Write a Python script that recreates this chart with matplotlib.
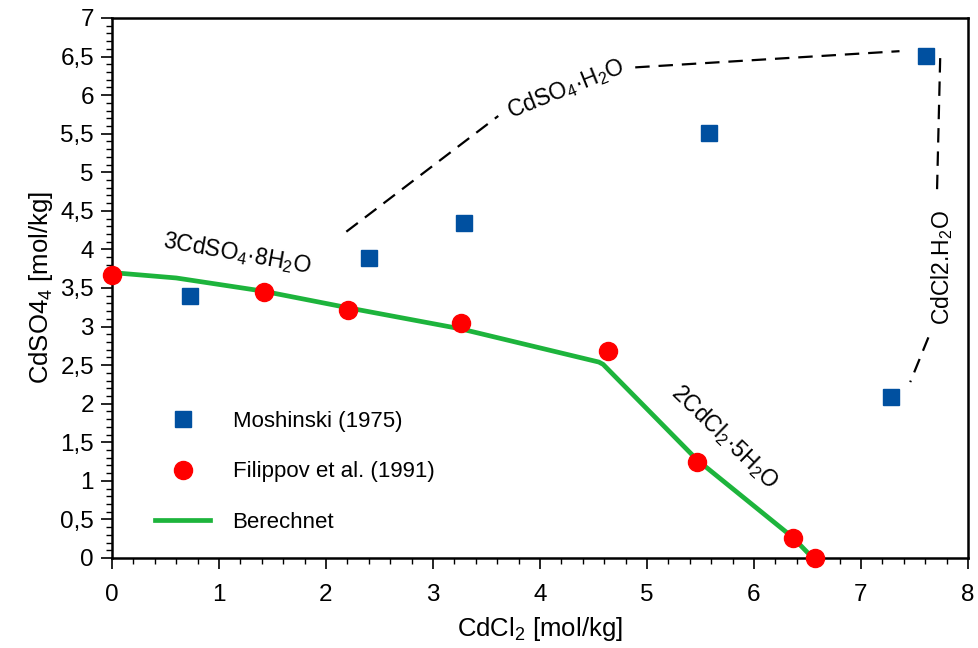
import numpy as np
import matplotlib
matplotlib.use("Agg")
import matplotlib.pyplot as plt
from matplotlib.ticker import MultipleLocator, FuncFormatter

# ================== DATA ==================
# Moshinski (1975)
mosh_x = [0.73, 2.40, 3.29, 5.58, 7.28, 7.61]
mosh_y = [3.40, 3.89, 4.34, 5.51, 2.09, 6.51]

# Filippov et al. (1991)
fil_x = [0.0, 1.42, 2.21, 3.26, 4.64, 5.47, 6.36, 6.57]
fil_y = [3.67, 3.45, 3.21, 3.05, 2.68, 1.24, 0.26, 0.0]

# Berechnet (calculated curve)
calc_x = [0.0, 0.6, 1.41, 2.22, 3.26, 4.55, 4.59, 5.47, 6.36, 6.55]
calc_y = [3.70, 3.63, 3.46, 3.24, 2.97, 2.54, 2.51, 1.27, 0.27, 0.0]

# dashed phase boundaries (pieces between the labels)
bound_segments = [
    ([2.19, 3.61], [4.23, 5.73]),
    ([4.89, 7.36], [6.36, 6.57]),
    ([7.74, 7.71], [6.48, 4.73]),
    ([7.63, 7.46], [2.86, 2.28]),
]

# phase labels: text, x, y, rotation
phase_labels = [
    (r"3CdSO$_4$·8H$_2$O", 1.17, 3.95, -10),
    (r"CdSO$_4$·H$_2$O", 4.24, 6.09, 22),
    (r"2CdCl$_2$·5H$_2$O", 5.73, 1.57, -44),
    (r"CdCl2.H$_2$O", 7.76, 3.76, 90),
]
# ==========================================

plt.rcParams["font.family"] = ["Liberation Sans", "DejaVu Sans"]
plt.rcParams["mathtext.fontset"] = "custom"
plt.rcParams["mathtext.rm"] = "Liberation Sans"
plt.rcParams["mathtext.it"] = "Liberation Sans:italic"
plt.rcParams["mathtext.default"] = "rm"

fig = plt.figure(figsize=(9.79, 6.48), dpi=100)
ax = fig.add_axes([112 / 979, 90 / 648, 856 / 979, 540 / 648])

for sx, sy in bound_segments:
    ax.plot(sx, sy, color="black", lw=1.6, dashes=(6.5, 4), zorder=2)

for txt, tx, ty, rot in phase_labels:
    ax.text(tx, ty, txt, rotation=rot, fontsize=16.5, ha="center", va="center",
            rotation_mode="anchor", zorder=3)

ax.plot(calc_x, calc_y, color="#1db43c", lw=3.4, label="Berechnet", zorder=3)
ax.plot(mosh_x, mosh_y, ls="none", marker="s", ms=11.5, color="#0050a0",
        mec="#0050a0", label="Moshinski (1975)", zorder=4)
ax.plot(fil_x, fil_y, ls="none", marker="o", ms=13, color="#ff0000",
        mec="#ff0000", label="Filippov et al. (1991)", zorder=5, clip_on=False)

ax.set_xlim(0, 8)
ax.set_ylim(0, 7)

comma = FuncFormatter(lambda v, p: ("%g" % v).replace(".", ","))
ax.xaxis.set_major_locator(MultipleLocator(1))
ax.xaxis.set_minor_locator(MultipleLocator(0.2))
ax.yaxis.set_major_locator(MultipleLocator(0.5))
ax.yaxis.set_minor_locator(MultipleLocator(0.1))
ax.yaxis.set_major_formatter(comma)

ax.tick_params(which="major", direction="out", length=8, width=1.2,
               labelsize=17.5, top=False, right=False)
ax.tick_params(which="minor", direction="out", length=4, width=1.0,
               top=False, right=False)
ax.tick_params(axis="x", pad=11)
ax.tick_params(axis="y", pad=5)
for s in ax.spines.values():
    s.set_linewidth(1.8)

ax.set_xlabel(r"CdCl$_2$ [mol/kg]", fontsize=18.5, labelpad=6)
ax.set_ylabel(r"CdSO4$_4$ [mol/kg]", fontsize=18.5, labelpad=4)

h, l = ax.get_legend_handles_labels()
order = [1, 2, 0]
ax.legend([h[i] for i in order], [l[i] for i in order], loc="upper left",
          bbox_to_anchor=(0.05, 0.273), frameon=False, fontsize=16,
          labelspacing=1.34, handlelength=2.5, handletextpad=1.0,
          borderpad=0, borderaxespad=0)

fig.savefig("out.png", dpi=100)
